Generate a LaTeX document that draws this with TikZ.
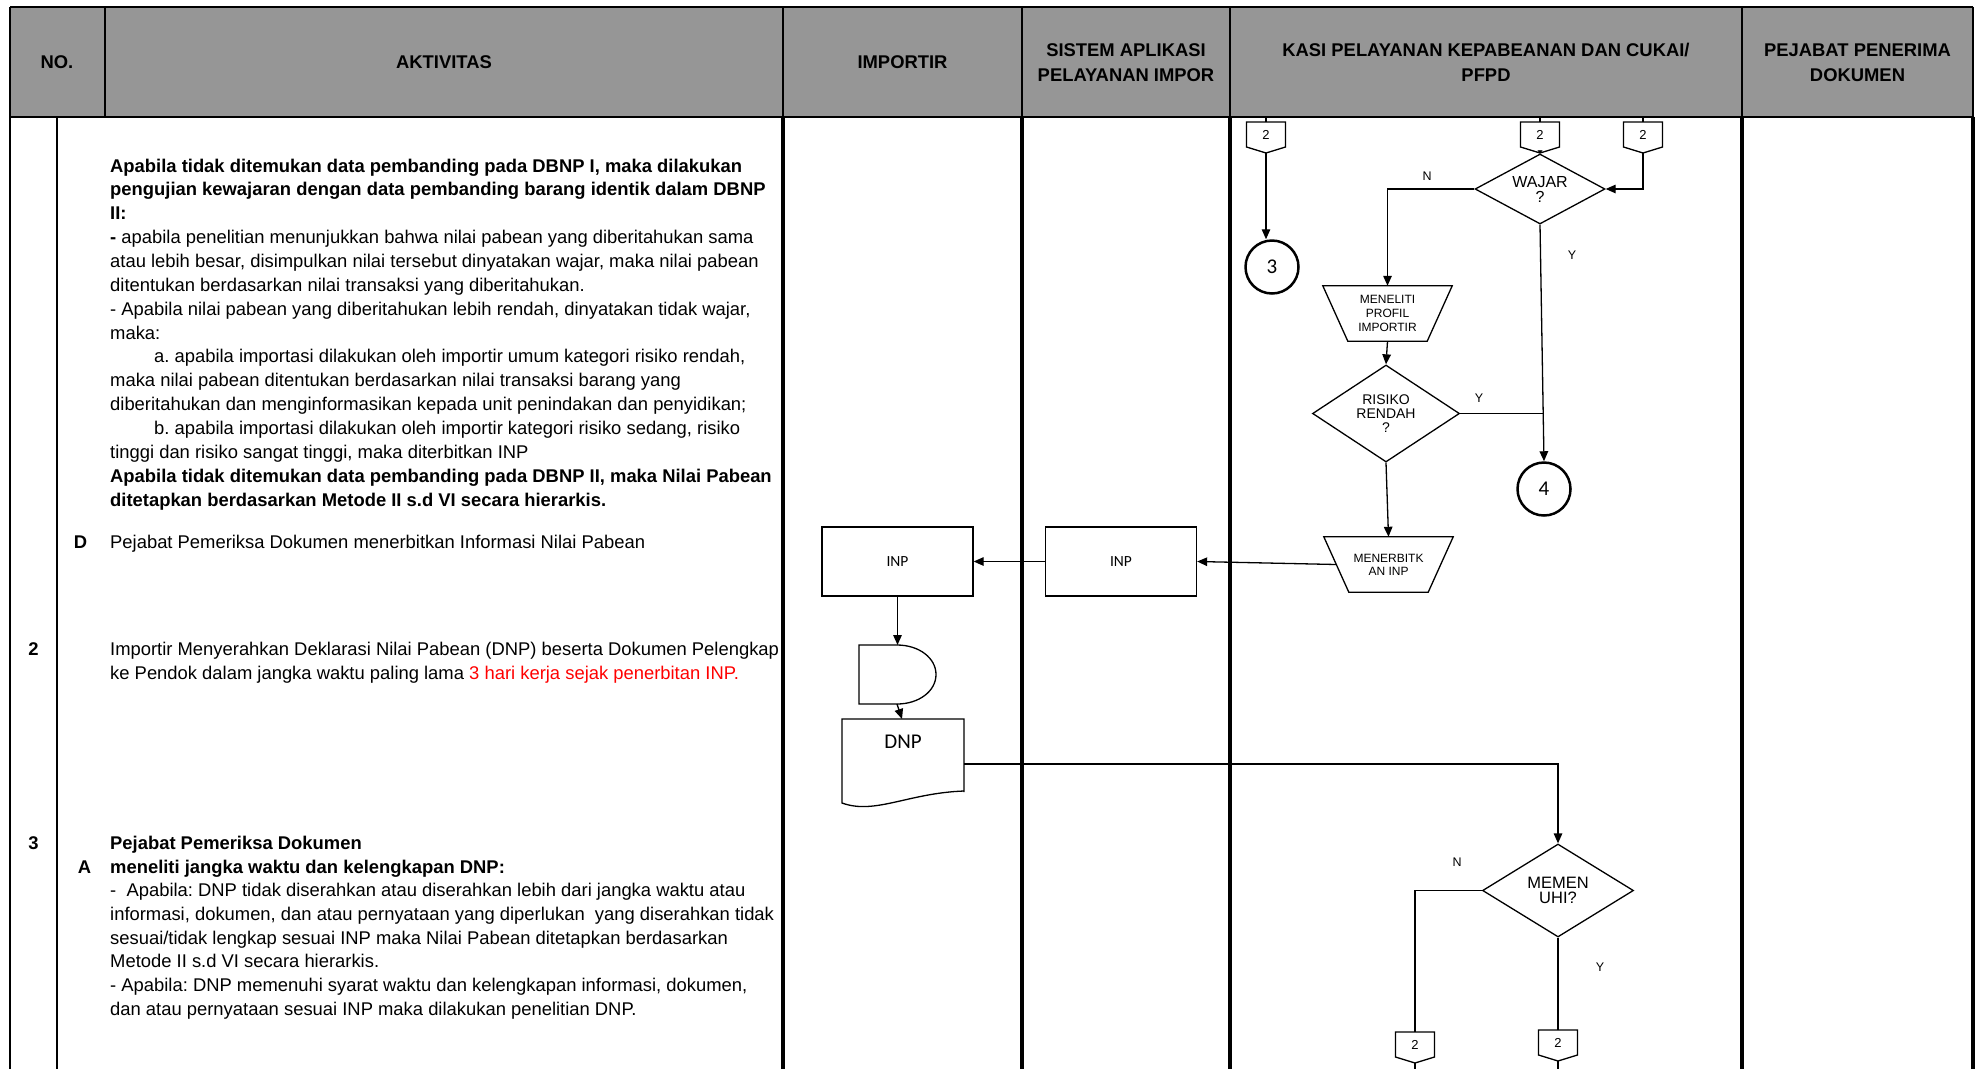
\documentclass[tikz,border=0pt]{standalone}
\usepackage{fontspec}
\setmainfont{Liberation Sans}
\newfontfamily\carl{Carlito}
\usetikzlibrary{arrows.meta,shapes.geometric,calc}
\definecolor{hdr}{RGB}{150,150,150}
\frenchspacing
\newcommand\fs[2]{\fontsize{#1}{#2}\selectfont}
\newcommand\opc[3]{%
  \draw[flow,fill=white] (#2-19.5,#3) -- (#2+19.5,#3) -- (#2+19.5,#3+25) -- (#2,#3+31) -- (#2-19.5,#3+25) -- cycle;
  \node[lbl,font=\fs{13}{13}] (#1) at (#2,#3+13) {2};
  \coordinate (#1p) at (#2,#3+31);
  \coordinate (#1t) at (#2,#3);
}
\begin{document}
\begin{tikzpicture}[x=1pt,y=-1pt,
  body/.style={anchor=base west,inner sep=0,font=\fs{18.4}{22}},
  bbody/.style={anchor=base west,inner sep=0,font=\fs{18.4}{22}\bfseries},
  hd/.style={anchor=base,inner sep=0,font=\fs{18.4}{22}\bfseries},
  num/.style={anchor=base,inner sep=0,font=\fs{18.4}{22}\bfseries},
  flow/.style={line width=1.3pt},
  arr/.style={flow,-{Triangle[length=10pt,width=8.5pt]}},
  dec/.style={diamond,draw,line width=1.3pt,inner sep=0,align=center},
  lbl/.style={inner sep=0,font=\fs{12.5}{12.5}},
  thin/.style={line width=1.6pt},
  thick/.style={line width=3.2pt},
  box/.style={draw,line width=1.3pt,minimum width=151,minimum height=69,inner sep=0,font=\carl\fs{15.5}{16}},
  ghost/.style={inner sep=0,align=center},
  conn/.style={circle,draw,line width=2.5pt,minimum size=53,inner sep=0,font=\carl\fs{21}{21}}
]
\useasboundingbox (0,0) rectangle (1975,1069);

% ---------- header ----------
\fill[hdr] (10,6.7) rectangle (1973,116.7);
\draw[thin] (10,6.7) -- (1973,6.7);
\foreach \xx in {105,783,1022,1230,1742,1973} \draw[thin] (\xx,6.7) -- (\xx,116.7);
\draw[thin] (10,6.7) -- (10,1069);
\draw[thin] (57,116.7) -- (57,1069);
\foreach \xx in {783,1022,1230,1742,1973} \draw[thick] (\xx,116.7) -- (\xx,1069);
\draw[thin] (10,116.7) -- (1973,116.7);

\node[hd] (hno) at (57,68) {NO.};
\node[hd] (hakt) at (444,68) {AKTIVITAS};
\node[hd] (himp) at (902.5,68) {IMPORTIR};
\node[hd] (hsis1) at (1126,56) {SISTEM APLIKASI};
\node[hd] (hsis2) at (1126,81) {PELAYANAN IMPOR};
\node[hd] (hkas1) at (1486,56) {KASI PELAYANAN KEPABEANAN DAN CUKAI/};
\node[hd] (hkas2) at (1486,81) {PFPD};
\node[hd] (hpej1) at (1857.5,56) {PEJABAT PENERIMA};
\node[hd] (hpej2) at (1857.5,81) {DOKUMEN};

% ---------- activity text ----------
\node[bbody] (t1) at (110,172) {Apabila tidak ditemukan data pembanding pada DBNP I, maka dilakukan};
\node[bbody] (t2) at (110,195.9) {pengujian kewajaran dengan data pembanding barang identik dalam DBNP};
\node[bbody] (t3) at (110,219.7) {II:};
\node[body] (t4) at (110,243.6) {\textbf{-} apabila penelitian menunjukkan bahwa nilai pabean yang diberitahukan sama};
\node[body] (t5) at (110,267.4) {atau lebih besar, disimpulkan nilai tersebut dinyatakan wajar, maka nilai pabean};
\node[body] (t6) at (110,291.3) {ditentukan berdasarkan nilai transaksi yang diberitahukan.};
\node[body] (t7) at (110,315.2) {- Apabila nilai pabean yang diberitahukan lebih rendah, dinyatakan tidak wajar,};
\node[body] (t8) at (110,339.0) {maka:};
\node[body] (t9) at (154,362.9) {a. apabila importasi dilakukan oleh importir umum kategori risiko rendah,};
\node[body] (t10) at (110,386.7) {maka nilai pabean ditentukan berdasarkan nilai transaksi barang yang};
\node[body] (t11) at (110,410.6) {diberitahukan dan menginformasikan kepada unit penindakan dan penyidikan;};
\node[body] (t12) at (154,434.5) {b. apabila importasi dilakukan oleh importir kategori risiko sedang, risiko};
\node[body] (t13) at (110,458.3) {tinggi dan risiko sangat tinggi, maka diterbitkan INP};
\node[bbody] (t14) at (110,482.2) {Apabila tidak ditemukan data pembanding pada DBNP II, maka Nilai Pabean};
\node[bbody] (t15) at (110,506.0) {ditetapkan berdasarkan Metode II s.d VI secara hierarkis.};

\node[num] (nD) at (80.6,548) {D};
\node[body] (tD) at (110,548) {Pejabat Pemeriksa Dokumen menerbitkan Informasi Nilai Pabean};

\node[num] (n2) at (33.5,655) {2};
\node[body] (r2a) at (110,655) {Importir Menyerahkan Deklarasi Nilai Pabean (DNP) beserta Dokumen Pelengkap};
\node[body] (r2b) at (110,679) {ke Pendok dalam jangka waktu paling lama \textcolor{red}{3 hari kerja sejak penerbitan INP.}};

\node[num] (n3) at (33.5,849) {3};
\node[bbody] (r3a) at (110,849) {Pejabat Pemeriksa Dokumen};
\node[num] (nA) at (84.4,873) {A};
\node[bbody] (r3b) at (110,873) {meneliti jangka waktu dan kelengkapan DNP:};
\node[body] (r3c) at (110,896.7) {-~ Apabila: DNP tidak diserahkan atau diserahkan lebih dari jangka waktu atau};
\node[body] (r3d) at (110,920.4) {informasi, dokumen, dan atau pernyataan yang diperlukan~ yang diserahkan tidak};
\node[body] (r3e) at (110,944.1) {sesuai/tidak lengkap sesuai INP maka Nilai Pabean ditetapkan berdasarkan};
\node[body] (r3f) at (110,967.8) {Metode II s.d VI secara hierarkis.};
\node[body] (r3g) at (110,991.5) {- Apabila: DNP memenuhi syarat waktu dan kelengkapan informasi, dokumen,};
\node[body] (r3h) at (110,1015.2) {dan atau pernyataan sesuai INP maka dilakukan penelitian DNP.};

% ---------- flow: KASI column ----------
\opc{ca}{1266}{122}
\opc{cb}{1540}{122}
\opc{cc}{1643}{122}
\draw[flow] (1266,116.7) -- (cat);
\draw[flow] (1540,116.7) -- (cbt);
\draw[flow] (1643,116.7) -- (cct);

\node[conn] (circ3) at (1272,267) {3};
\node[conn] (circ4) at (1544,489) {4};

\node[dec,aspect=1.857,minimum width=130,minimum height=70,font=\fs{16}{15}] (wajar) at (1540,189) {WAJAR\\?};
\node[dec,aspect=1.515,minimum width=147,minimum height=97,font=\fs{14}{14}] (risk) at (1386,413.5) {RISIKO\\RENDAH\\?};
\node[dec,aspect=1.62,minimum width=151,minimum height=93,font=\fs{16.5}{15.5}] (mem) at (1558,890.5) {MEMEN\\UHI?};

\node[ghost,minimum width=129,minimum height=55,font=\fs{12}{14}] (men) at (1387.5,313.5) {MENELITI\\PROFIL\\IMPORTIR};
\draw[flow] (men.north west) -- (men.north east) -- ($(men.south east)+(-25,0)$) -- ($(men.south west)+(25,0)$) -- cycle;
\node[ghost,minimum width=129,minimum height=55,font=\fs{12}{13}] (mnb) at (1388.5,564.5) {MENERBITK\\AN INP};
\draw[flow] (mnb.north west) -- (mnb.north east) -- ($(mnb.south east)+(-25,0)$) -- ($(mnb.south west)+(25,0)$) -- cycle;

\node[lbl] (lN1) at (1427,176) {N};
\node[lbl] (lY1) at (1572,255) {Y};
\node[lbl] (lY2) at (1479,398) {Y};
\node[lbl] (lN2) at (1457,862) {N};
\node[lbl] (lY3) at (1600,967) {Y};

\draw[arr] (cap) -- (cap |- circ3.north);
\draw[flow,-{Triangle[length=3pt,width=5pt]}] (cbp) -- (wajar.north);
\draw[arr] (ccp) |- (wajar.east);
\draw[arr] (wajar.west) -| (men.north);
\draw[arr] (wajar.south) -- (circ4.north);
\draw[flow] (risk.east) -- (risk.east -| circ4.north);
\draw[arr] (men.south) -- (risk.north);
\draw[arr] (risk.south) -- (mnb.north);

% ---------- SISTEM and IMPORTIR ----------
\node[box] (sis) at (1121,561.5) {INP};
\node[box] (imp) at (897.5,561.5) {INP};
\coordinate (mnbw) at ($(mnb.west)+(12.5,0)$);
\draw[arr] (mnbw) -- (sis.east);
\draw[arr] (sis.west) -- (imp.east);

\node[ghost,minimum width=77,minimum height=59] (dly) at (897.5,674.5) {};
\draw[flow] (859,645) -- (897,645) .. controls (919,645) and (936,658) .. (936,674.5) .. controls (936,691) and (919,704) .. (897,704) -- (859,704) -- cycle;
\coordinate (dlyt) at (897.5,645);
\coordinate (dlyb) at (897,704);

\node[ghost,minimum width=122,minimum height=90] (dnp) at (903,764) {};
\draw[flow] (964,792) -- (964,719) -- (842,719) -- (842,803) .. controls (875,815) and (908,793) .. (964,791);
\node[inner sep=0,font=\carl\fs{21}{21}] (dnpt) at (903,742) {DNP};
\coordinate (dnpn) at (902,719);

\draw[arr] (imp.south) -- (dlyt);
\draw[arr] (dlyb) -- (dnpn);
\draw[arr] (dnp.east) -| (mem.north);

\opc{cd}{1415}{1032}
\opc{ce}{1558}{1030}
\draw[flow] (mem.west) -| (cdt);
\draw[flow] (mem.south) -- (cet);
\coordinate (endd) at (1415,1069);
\coordinate (ende) at (1558,1069);
\draw[flow] (cdp) -- (endd);
\draw[flow] (cep) -- (ende);
\end{tikzpicture}
\end{document}
